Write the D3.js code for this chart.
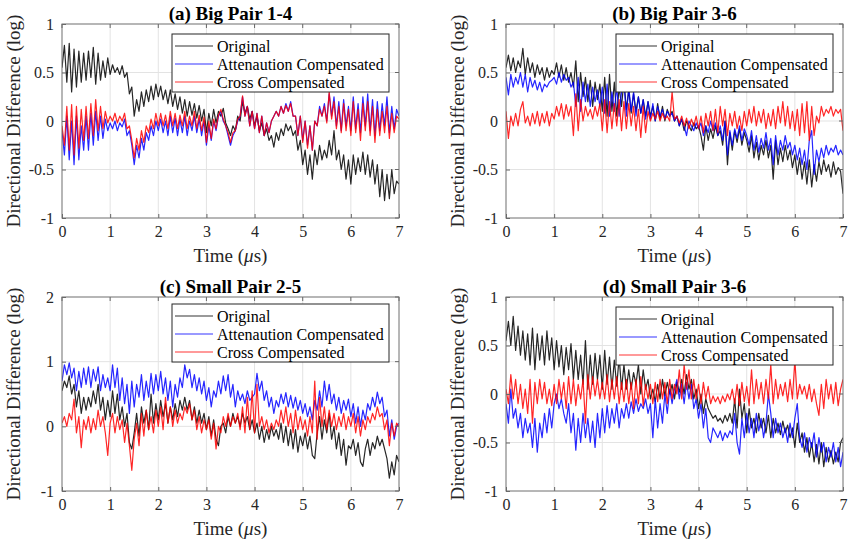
<!DOCTYPE html>
<html>
<head>
<meta charset="utf-8">
<script src="https://cdn.jsdelivr.net/npm/d3@7"></script>
<style>
  body { margin: 0; background: #fff; }
</style>
</head>
<body>
<svg id="chart" width="853" height="547"></svg>
<script>
// sample spacing of every trace (microseconds)
var sampleStep = 0.05;

var xTicks = [0, 1, 2, 3, 4, 5, 6, 7];
var yTicksHalf = [-1, -0.5, 0, 0.5, 1];
var yTicksUnit = [-1, 0, 1, 2];
var titles = ["(a) Big Pair 1-4", "(b) Big Pair 3-6", "(c) Small Pair 2-5", "(d) Small Pair 3-6"];
var seriesNames = ["Original", "Attenaution Compensated", "Cross Compensated"];
var seriesColors = ["#000000", "#0000ff", "#ff0000"];
var serif = "'Liberation Serif', 'Times New Roman', serif";

// (a) Big Pair 1-4
var bigA_orig = [
  0.55, 0.78, 0.40, 0.80, 0.30, 0.74, 0.35, 0.72, 0.40, 0.70,
  0.42, 0.72, 0.45, 0.76, 0.38, 0.70, 0.42, 0.62, 0.45, 0.65,
  0.48, 0.58, 0.50, 0.55, 0.48, 0.57, 0.45, 0.50, 0.28, 0.35,
  0.05, 0.22, 0.10, 0.30, 0.15, 0.32, 0.20, 0.36, 0.22, 0.38,
  0.25, 0.36, 0.22, 0.32, 0.18, 0.32, 0.15, 0.28, 0.12, 0.25,
  0.08, 0.22, 0.05, 0.20, 0.06, 0.18, 0.03, 0.16, 0.00, 0.12,
  -0.12, 0.08, -0.05, 0.12, -0.02, 0.10, 0.05, 0.13, -0.02, -0.08,
  -0.15, -0.05, -0.10, 0.05, 0.00, 0.20, 0.08, 0.15, 0.02, 0.10,
  -0.05, 0.05, -0.10, -0.02, -0.15, -0.08, -0.20, -0.15, -0.27, -0.12,
  -0.20, -0.08, -0.15, -0.03, -0.10, -0.05, -0.15, -0.10, -0.30, -0.20,
  -0.45, -0.30, -0.55, -0.35, -0.60, -0.30, -0.45, -0.25, -0.40, -0.30,
  -0.38, -0.20, -0.35, -0.10, -0.40, -0.30, -0.50, -0.35, -0.60, -0.40,
  -0.65, -0.35, -0.55, -0.38, -0.52, -0.32, -0.55, -0.35, -0.58, -0.40,
  -0.65, -0.45, -0.78, -0.50, -0.82, -0.55, -0.80, -0.50, -0.75, -0.62,
  -0.65];
var bigA_att = [
  -0.10, -0.35, 0.05, -0.40, 0.00, -0.45, 0.05, -0.40, -0.05, -0.30,
  0.05, -0.30, 0.08, -0.25, 0.10, -0.20, 0.05, -0.18, 0.02, -0.10,
  -0.02, -0.08, 0.00, -0.10, -0.02, -0.06, 0.02, -0.15, -0.10, -0.25,
  -0.45, -0.25, -0.38, -0.18, -0.30, -0.12, -0.20, -0.05, -0.15, 0.00,
  -0.10, 0.02, -0.12, 0.00, -0.15, 0.05, -0.12, 0.03, -0.15, 0.02,
  -0.12, 0.05, -0.15, 0.00, -0.10, 0.05, -0.12, 0.02, -0.15, 0.00,
  -0.25, -0.05, -0.20, 0.00, -0.10, 0.05, 0.10, 0.00, -0.05, -0.15,
  -0.25, -0.15, -0.10, 0.00, 0.05, 0.25, 0.05, 0.15, -0.05, 0.10,
  -0.08, 0.08, -0.12, 0.05, -0.15, -0.02, -0.12, 0.00, 0.05, 0.10,
  0.05, 0.15, 0.08, 0.18, 0.10, 0.20, 0.05, 0.05, -0.15, 0.05,
  -0.20, 0.00, -0.25, -0.05, -0.30, 0.00, -0.05, 0.15, 0.05, 0.18,
  0.00, 0.28, 0.05, 0.25, -0.05, 0.20, -0.10, 0.22, -0.05, 0.15,
  -0.10, 0.25, -0.08, 0.18, -0.12, 0.25, -0.05, 0.28, -0.10, 0.22,
  -0.15, 0.20, -0.10, 0.18, -0.05, 0.25, -0.12, 0.15, -0.08, 0.12,
  0.05];
var bigA_cross = [
  -0.05, -0.25, 0.15, -0.30, 0.17, -0.35, 0.15, -0.28, 0.12, -0.20,
  0.15, -0.18, 0.18, -0.15, 0.22, -0.10, 0.15, -0.08, 0.10, -0.02,
  0.05, 0.00, 0.08, -0.02, 0.05, 0.00, 0.08, -0.08, -0.05, -0.20,
  -0.38, -0.18, -0.30, -0.10, -0.22, -0.05, -0.12, 0.02, -0.08, 0.08,
  -0.05, 0.08, -0.05, 0.06, -0.08, 0.10, -0.05, 0.08, -0.08, 0.06,
  -0.05, 0.10, -0.08, 0.05, -0.05, 0.10, -0.08, 0.06, -0.10, 0.04,
  -0.22, 0.00, -0.18, 0.02, -0.08, 0.06, 0.12, 0.02, -0.05, -0.12,
  -0.22, -0.12, -0.10, 0.02, 0.05, 0.26, 0.05, 0.15, -0.05, 0.10,
  -0.08, 0.08, -0.12, 0.05, -0.15, -0.02, -0.12, 0.00, 0.05, 0.10,
  0.05, 0.15, 0.08, 0.16, 0.10, 0.18, 0.05, 0.05, -0.15, 0.05,
  -0.22, 0.00, -0.28, -0.05, -0.30, 0.00, -0.05, 0.12, 0.05, 0.15,
  -0.02, 0.30, 0.02, 0.20, -0.08, 0.15, -0.12, 0.18, -0.10, 0.12,
  -0.15, 0.20, -0.12, 0.12, -0.20, 0.18, -0.10, 0.20, -0.15, 0.15,
  -0.22, 0.12, -0.15, 0.10, -0.12, 0.15, -0.18, 0.08, -0.12, 0.05,
  0.02];

// (b) Big Pair 3-6
var bigB_orig = [
  0.55, 0.68, 0.52, 0.65, 0.50, 0.62, 0.55, 0.75, 0.48, 0.65,
  0.50, 0.60, 0.45, 0.58, 0.48, 0.55, 0.42, 0.55, 0.45, 0.52,
  0.48, 0.60, 0.45, 0.58, 0.42, 0.55, 0.40, 0.50, 0.35, 0.62,
  0.20, 0.50, 0.25, 0.45, 0.20, 0.42, 0.15, 0.40, 0.22, 0.38,
  0.10, 0.45, 0.05, 0.48, 0.10, 0.40, 0.05, 0.35, 0.15, 0.42,
  0.12, 0.32, 0.08, 0.28, 0.10, 0.25, 0.08, 0.22, 0.05, 0.20,
  0.05, 0.15, 0.00, 0.18, 0.02, 0.15, 0.00, 0.12, 0.05, 0.10,
  0.00, 0.05, -0.05, 0.02, -0.10, 0.00, -0.05, -0.10, -0.02, -0.08,
  -0.05, -0.15, -0.30, -0.05, -0.20, -0.08, -0.18, -0.05, -0.15, -0.10,
  -0.25, 0.00, -0.45, -0.12, -0.30, -0.10, -0.22, -0.08, -0.25, -0.12,
  -0.20, -0.32, -0.15, -0.38, -0.22, -0.40, -0.25, -0.35, -0.20, -0.38,
  -0.25, -0.60, -0.20, -0.45, -0.28, -0.42, -0.25, -0.40, -0.30, -0.48,
  -0.35, -0.55, -0.38, -0.60, -0.42, -0.65, -0.40, -0.68, -0.45, -0.62,
  -0.42, -0.55, -0.40, -0.52, -0.45, -0.58, -0.42, -0.55, -0.48, -0.52,
  -0.75];
var bigB_att = [
  0.45, 0.27, 0.48, 0.35, 0.45, 0.38, 0.50, 0.35, 0.48, 0.30,
  0.45, 0.35, 0.42, 0.32, 0.40, 0.30, 0.38, 0.35, 0.40, 0.42,
  0.45, 0.38, 0.50, 0.40, 0.48, 0.42, 0.45, 0.35, 0.40, 0.15,
  0.45, 0.10, 0.40, 0.20, 0.38, 0.15, 0.35, 0.20, 0.32, 0.15,
  0.35, 0.08, 0.38, 0.05, 0.30, 0.10, 0.35, 0.05, 0.30, 0.40,
  0.05, 0.35, 0.10, 0.30, 0.05, 0.25, 0.08, 0.22, 0.02, 0.20,
  0.02, 0.18, 0.00, 0.15, 0.05, 0.12, 0.02, 0.10, 0.05, 0.08,
  0.00, 0.05, -0.05, 0.02, -0.05, -0.15, 0.00, -0.05, -0.10, -0.02,
  -0.08, -0.02, -0.15, -0.05, -0.12, 0.00, -0.10, -0.02, -0.15, -0.05,
  -0.20, 0.00, -0.35, -0.10, -0.25, -0.08, -0.18, -0.05, -0.20, -0.08,
  -0.15, -0.25, -0.10, -0.30, -0.15, -0.32, -0.18, -0.28, -0.12, -0.30,
  -0.18, -0.45, -0.15, -0.35, -0.20, -0.30, -0.15, -0.28, -0.22, -0.35,
  -0.25, -0.40, -0.28, -0.45, -0.30, -0.50, -0.20, -0.10, -0.55, -0.30,
  -0.42, -0.28, -0.38, -0.25, -0.35, -0.28, -0.32, -0.25, -0.35, -0.30,
  -0.35];
var bigB_cross = [
  0.10, -0.18, 0.05, -0.05, 0.08, -0.05, 0.12, 0.20, -0.02, 0.05,
  -0.05, 0.08, -0.03, 0.10, -0.05, 0.08, -0.02, 0.10, -0.05, 0.08,
  0.02, 0.15, 0.05, 0.18, 0.02, 0.17, 0.05, 0.15, -0.15, 0.28,
  -0.10, 0.22, 0.00, 0.15, 0.05, 0.12, 0.02, 0.15, 0.05, 0.18,
  -0.10, 0.22, -0.12, 0.20, -0.08, 0.18, -0.05, 0.22, -0.10, 0.20,
  -0.08, 0.18, -0.05, 0.15, -0.10, 0.12, -0.17, 0.15, -0.12, 0.10,
  0.00, 0.08, 0.02, 0.10, 0.00, 0.08, 0.02, 0.05, 0.00, 0.30,
  0.02, 0.05, -0.02, 0.05, -0.05, 0.03, -0.08, 0.02, -0.05, 0.05,
  -0.08, 0.05, -0.12, 0.08, -0.05, 0.10, -0.10, 0.12, -0.12, 0.15,
  -0.05, 0.12, -0.15, 0.08, -0.05, 0.10, -0.08, 0.05, -0.10, 0.10,
  -0.05, 0.12, -0.02, 0.15, -0.05, 0.10, -0.02, 0.12, -0.08, 0.08,
  -0.05, 0.12, -0.08, 0.15, -0.02, 0.20, -0.05, 0.15, -0.08, 0.10,
  -0.10, 0.12, -0.15, 0.18, -0.12, 0.20, -0.20, 0.15, -0.15, 0.05,
  -0.02, 0.15, 0.05, 0.12, 0.08, 0.15, 0.05, 0.12, 0.08, 0.12,
  -0.10];

// (c) Small Pair 2-5
var smallC_orig = [
  0.55, 0.70, 0.60, 0.78, 0.50, 0.65, 0.30, 0.55, 0.20, 0.45,
  0.25, 0.45, 0.30, 0.55, 0.35, 0.65, 0.25, 0.45, 0.10, 0.40,
  0.15, 0.55, 0.20, 0.50, 0.10, 0.30, 0.00, 0.20, -0.25, -0.35,
  -0.10, 0.20, -0.15, 0.30, 0.05, 0.25, -0.05, 0.50, 0.05, 0.35,
  0.10, 0.40, 0.15, 0.35, 0.05, 0.30, 0.10, 0.35, 0.15, 0.40,
  0.25, 0.45, 0.25, 0.40, 0.10, 0.30, 0.05, 0.25, 0.05, 0.20,
  -0.05, 0.15, -0.15, 0.10, -0.20, -0.30, 0.00, 0.05, -0.10, 0.15,
  0.00, 0.20, 0.05, 0.15, 0.00, 0.20, 0.05, 0.15, -0.05, 0.10,
  -0.10, 0.05, -0.20, 0.00, -0.25, -0.05, -0.20, 0.00, -0.15, -0.05,
  -0.20, 0.05, -0.25, 0.00, -0.30, -0.05, -0.35, -0.05, -0.40, -0.15,
  -0.30, -0.10, -0.35, -0.15, -0.45, -0.50, -0.10, 0.15, -0.20, 0.10,
  -0.10, 0.20, -0.20, 0.00, -0.35, -0.10, -0.45, -0.20, -0.60, -0.30,
  -0.35, -0.20, -0.45, -0.25, -0.55, -0.62, -0.35, -0.20, -0.45, -0.25,
  -0.35, -0.15, -0.30, -0.20, -0.35, -0.50, -0.80, -0.55, -0.75, -0.45,
  -0.55];
var smallC_att = [
  0.70, 0.95, 0.80, 0.98, 0.75, 0.90, 0.55, 0.85, 0.60, 0.90,
  0.65, 0.92, 0.60, 0.88, 0.70, 0.92, 0.55, 0.80, 0.60, 0.75,
  0.55, 0.95, 0.60, 0.90, 0.40, 0.75, 0.35, 0.65, 0.20, 0.70,
  0.30, 0.65, 0.45, 0.80, 0.40, 0.70, 0.45, 0.82, 0.50, 0.80,
  0.55, 0.85, 0.50, 0.75, 0.40, 0.70, 0.30, 0.65, 0.45, 0.75,
  0.60, 0.95, 0.75, 0.88, 0.60, 0.80, 0.55, 0.75, 0.50, 0.70,
  0.40, 0.60, 0.30, 0.55, 0.45, 0.70, 0.50, 0.78, 0.55, 0.80,
  0.45, 0.65, 0.30, 0.55, 0.40, 0.50, 0.35, 0.55, 0.40, 0.45,
  0.50, 0.82, 0.55, 0.70, 0.40, 0.55, 0.30, 0.45, 0.20, 0.40,
  0.30, 0.50, 0.35, 0.52, 0.30, 0.48, 0.28, 0.45, 0.25, 0.40,
  0.20, 0.35, 0.15, 0.30, 0.10, 0.40, 0.25, 0.55, 0.30, 0.70,
  0.40, 0.65, 0.35, 0.50, 0.25, 0.45, 0.20, 0.40, 0.25, 0.42,
  0.15, 0.35, 0.05, 0.30, 0.00, 0.25, 0.10, 0.35, 0.25, 0.45,
  0.30, 0.53, 0.35, 0.45, 0.15, 0.25, -0.15, 0.10, -0.20, 0.00,
  0.05];
var smallC_cross = [
  0.05, 0.15, 0.00, 0.20, 0.10, 0.42, -0.10, 0.15, -0.33, 0.10,
  -0.05, 0.15, -0.10, 0.12, -0.05, 0.25, 0.00, 0.15, -0.10, -0.45,
  0.05, 0.20, -0.10, 0.15, -0.05, 0.10, -0.25, 0.05, -0.30, -0.68,
  -0.20, 0.05, -0.30, 0.20, -0.15, 0.25, -0.05, 0.15, -0.10, 0.25,
  0.00, 0.30, -0.05, 0.45, 0.05, 0.30, 0.00, 0.25, 0.05, 0.20,
  0.10, 0.30, 0.20, 0.35, 0.10, 0.25, -0.05, 0.15, -0.10, 0.10,
  -0.05, 0.10, -0.20, 0.05, -0.35, 0.00, -0.10, 0.15, 0.00, 0.20,
  0.00, 0.15, 0.05, 0.20, -0.05, 0.30, -0.10, 0.45, -0.05, 0.55,
  -0.10, 0.65, 0.00, 0.15, -0.05, 0.10, -0.10, 0.05, -0.05, 0.10,
  0.00, 0.25, 0.05, 0.30, 0.00, 0.20, -0.10, 0.25, -0.05, 0.15,
  -0.05, 0.10, -0.15, 0.15, -0.10, 0.70, -0.20, 0.45, 0.00, 0.30,
  -0.05, 0.25, 0.00, 0.20, -0.05, 0.15, 0.00, 0.20, -0.05, 0.15,
  0.00, 0.20, -0.10, 0.15, -0.15, 0.10, -0.05, 0.15, 0.05, 0.20,
  0.10, 0.30, 0.15, 0.20, -0.05, 0.10, -0.30, 0.05, -0.15, 0.05,
  0.00];

// (d) Small Pair 3-6
var smallD_orig = [
  0.55, 0.75, 0.50, 0.80, 0.45, 0.70, 0.40, 0.65, 0.35, 0.62,
  0.30, 0.68, 0.25, 0.62, 0.35, 0.60, 0.30, 0.65, 0.35, 0.58,
  0.25, 0.55, 0.28, 0.50, 0.20, 0.48, 0.25, 0.52, 0.15, 0.45,
  0.15, 0.40, 0.10, 0.55, 0.05, 0.40, 0.10, 0.42, 0.15, 0.40,
  0.05, 0.45, 0.10, 0.38, 0.05, 0.35, 0.08, 0.38, 0.05, 0.30,
  0.05, 0.25, 0.05, 0.22, 0.10, 0.30, 0.00, 0.25, 0.05, 0.15,
  -0.05, 0.05, -0.08, 0.10, -0.05, 0.15, -0.02, 0.12, 0.00, 0.10,
  -0.05, 0.12, 0.02, 0.15, 0.00, 0.20, 0.05, 0.15, -0.05, 0.05,
  -0.15, 0.00, -0.20, -0.05, -0.15, -0.20, -0.25, -0.22, -0.28, -0.25,
  -0.30, -0.22, -0.28, -0.20, -0.30, -0.05, -0.35, 0.05, -0.25, -0.10,
  -0.40, -0.15, -0.35, -0.25, -0.40, -0.20, -0.35, -0.25, -0.40, -0.22,
  -0.45, -0.25, -0.40, -0.30, -0.42, -0.28, -0.40, -0.32, -0.45, -0.35,
  -0.55, -0.30, -0.50, -0.40, -0.60, -0.45, -0.65, -0.50, -0.70, -0.52,
  -0.72, -0.50, -0.75, -0.55, -0.70, -0.58, -0.72, -0.60, -0.70, -0.50,
  -0.45];
var smallD_att = [
  -0.10, -0.30, 0.05, -0.25, -0.15, -0.35, -0.20, -0.45, -0.25, -0.40,
  -0.30, -0.55, -0.25, -0.60, -0.30, -0.45, -0.20, -0.40, -0.15, -0.35,
  -0.10, 0.00, -0.15, -0.05, -0.20, -0.30, -0.10, -0.40, -0.20, -0.58,
  -0.25, -0.50, -0.20, -0.45, -0.25, -0.50, -0.28, -0.55, -0.20, -0.45,
  -0.15, -0.40, -0.12, -0.35, -0.15, -0.30, -0.10, -0.35, -0.15, -0.25,
  -0.10, -0.25, -0.08, -0.20, -0.05, -0.18, -0.10, -0.15, -0.05, -0.20,
  -0.10, -0.45, -0.05, -0.35, -0.10, -0.30, 0.00, -0.20, 0.05, -0.10,
  0.05, 0.15, -0.05, 0.10, -0.10, 0.12, -0.05, 0.10, -0.15, -0.05,
  -0.25, -0.10, -0.35, -0.15, -0.45, -0.50, -0.35, -0.40, -0.45, -0.38,
  -0.48, -0.40, -0.45, -0.38, -0.42, -0.20, -0.50, -0.62, -0.25, -0.45,
  -0.20, -0.40, -0.25, -0.45, -0.20, -0.38, -0.25, -0.45, -0.30, 0.00,
  -0.20, -0.45, -0.25, -0.40, -0.30, -0.45, -0.35, -0.50, -0.30, -0.45,
  -0.25, -0.10, -0.45, -0.55, -0.40, -0.60, -0.45, -0.55, -0.40, -0.65,
  -0.45, -0.60, -0.50, -0.70, -0.55, -0.65, -0.50, -0.70, -0.55, -0.75,
  -0.60];
var smallD_cross = [
  0.05, -0.10, 0.20, -0.05, 0.15, -0.10, 0.10, -0.15, 0.05, -0.20,
  0.15, -0.30, 0.12, -0.10, 0.15, -0.05, 0.12, -0.10, 0.05, -0.12,
  0.10, -0.10, 0.15, -0.05, 0.12, -0.15, 0.18, -0.10, 0.15, -0.12,
  0.10, -0.05, 0.15, -0.30, 0.20, -0.05, 0.18, -0.02, 0.15, -0.05,
  0.12, -0.05, 0.20, -0.08, 0.15, -0.05, 0.18, -0.10, 0.12, -0.08,
  0.15, -0.10, 0.12, -0.15, 0.15, -0.10, 0.18, -0.12, 0.10, -0.05,
  0.10, -0.10, 0.12, -0.08, 0.15, -0.05, 0.12, -0.10, 0.15, -0.05,
  0.10, 0.00, 0.25, -0.05, 0.30, 0.05, 0.25, -0.05, 0.15, -0.05,
  0.10, -0.10, 0.12, -0.05, 0.08, -0.10, -0.02, -0.08, -0.03, -0.10,
  -0.02, -0.08, 0.00, -0.06, 0.05, -0.10, 0.10, -0.12, 0.12, -0.08,
  0.08, -0.12, 0.25, -0.10, 0.15, -0.05, 0.12, -0.10, 0.15, -0.05,
  0.30, -0.10, 0.15, -0.05, 0.10, -0.02, 0.12, -0.08, 0.15, -0.05,
  0.35, -0.05, 0.10, 0.00, 0.08, -0.05, 0.10, -0.08, 0.05, -0.10,
  -0.22, 0.10, -0.15, 0.15, -0.05, 0.10, -0.10, 0.12, -0.12, 0.05,
  0.15];

var panels = [
  {title: titles[0], left: 62, top: 24, yDomain: [-1, 1], yTicks: yTicksHalf,
   series: [bigA_orig, bigA_att, bigA_cross], legendTop: 10},
  {title: titles[1], left: 506, top: 24, yDomain: [-1, 1], yTicks: yTicksHalf,
   series: [bigB_orig, bigB_att, bigB_cross], legendTop: 10},
  {title: titles[2], left: 62, top: 297, yDomain: [-1, 2], yTicks: yTicksUnit,
   series: [smallC_orig, smallC_att, smallC_cross], legendTop: 7},
  {title: titles[3], left: 506, top: 297, yDomain: [-1, 1], yTicks: yTicksHalf,
   series: [smallD_orig, smallD_att, smallD_cross], legendTop: 10}
];

var plotW = 337, plotH = 194;
var svg = d3.select("#chart");

panels.forEach(function(p) {
  var g = svg.append("g").attr("transform", "translate(" + p.left + "," + p.top + ")");

  var x = d3.scaleLinear().domain([0, 7]).range([0, plotW]);
  var y = d3.scaleLinear().domain(p.yDomain).range([plotH, 0]);

  // grid
  g.append("g").selectAll("line").data(xTicks.slice(1, -1)).enter().append("line")
      .attr("x1", function(d) { return x(d); }).attr("x2", function(d) { return x(d); })
      .attr("y1", 0).attr("y2", plotH)
      .attr("stroke", "#e3e3e3").attr("stroke-width", 1);
  g.append("g").selectAll("line").data(p.yTicks.slice(1, -1)).enter().append("line")
      .attr("y1", function(d) { return y(d); }).attr("y2", function(d) { return y(d); })
      .attr("x1", 0).attr("x2", plotW)
      .attr("stroke", "#e3e3e3").attr("stroke-width", 1);

  // traces (original, attenuation, cross on top)
  var clipId = "clip" + p.left + "_" + p.top;
  g.append("clipPath").attr("id", clipId).append("rect")
      .attr("width", plotW).attr("height", plotH);
  var line = d3.line()
      .x(function(d, i) { return x(i * sampleStep); })
      .y(function(d) { return y(d); });
  p.series.forEach(function(s, k) {
    g.append("path")
        .datum(s)
        .attr("clip-path", "url(#" + clipId + ")")
        .attr("fill", "none")
        .attr("stroke", seriesColors[k])
        .attr("stroke-opacity", 0.85)
        .attr("stroke-width", 1.2)
        .attr("stroke-linejoin", "round")
        .attr("d", line);
  });

  // axes
  var xAxis = d3.axisBottom(x).tickValues(xTicks).tickSizeInner(-4).tickSizeOuter(0)
      .tickPadding(8).tickFormat(function(d) { return d; });
  var yAxis = d3.axisLeft(y).tickValues(p.yTicks).tickSizeInner(-4).tickSizeOuter(0)
      .tickPadding(8).tickFormat(function(d) { return d; });
  var gx = g.append("g").attr("transform", "translate(0," + plotH + ")").call(xAxis);
  var gy = g.append("g").call(yAxis);
  [gx, gy].forEach(function(a) {
    a.attr("font-family", serif).attr("font-size", 16);
    a.select(".domain").remove();
    a.selectAll(".tick line").attr("stroke", "#666");
    a.selectAll(".tick text").attr("fill", "#262626");
  });
  // top and right ticks
  g.append("g").selectAll("line").data(xTicks).enter().append("line")
      .attr("x1", function(d) { return x(d); }).attr("x2", function(d) { return x(d); })
      .attr("y1", 0).attr("y2", 4).attr("stroke", "#666");
  g.append("g").selectAll("line").data(p.yTicks).enter().append("line")
      .attr("y1", function(d) { return y(d); }).attr("y2", function(d) { return y(d); })
      .attr("x1", plotW).attr("x2", plotW - 4).attr("stroke", "#666");

  // box
  g.append("rect").attr("width", plotW).attr("height", plotH)
      .attr("fill", "none").attr("stroke", "#6e6e6e").attr("stroke-width", 1);

  // title
  g.append("text")
      .attr("x", plotW / 2).attr("y", -4)
      .attr("text-anchor", "middle")
      .attr("font-family", serif)
      .attr("font-size", 19).attr("font-weight", "bold")
      .text(p.title);

  // axis labels
  var xl = g.append("text")
      .attr("x", plotW / 2).attr("y", plotH + 44)
      .attr("text-anchor", "middle")
      .attr("fill", "#262626")
      .attr("font-family", serif)
      .attr("font-size", 19);
  xl.append("tspan").text("Time (");
  xl.append("tspan").attr("font-style", "italic").text("\u03bc");
  xl.append("tspan").text("s)");

  g.append("text")
      .attr("transform", "translate(-42," + (plotH / 2) + ") rotate(-90)")
      .attr("text-anchor", "middle")
      .attr("fill", "#262626")
      .attr("font-family", serif)
      .attr("font-size", 19)
      .text("Directional Difference (log)");

  // legend
  var lg = g.append("g").attr("transform", "translate(" + (plotW - 227) + "," + p.legendTop + ")");
  lg.append("rect").attr("width", 217).attr("height", 58)
      .attr("fill", "#fff").attr("stroke", "#262626").attr("stroke-width", 1);
  seriesNames.forEach(function(name, k) {
    var cy = 12 + k * 18;
    lg.append("line").attr("x1", 3).attr("x2", 41).attr("y1", cy).attr("y2", cy)
        .attr("stroke", seriesColors[k]).attr("stroke-opacity", 0.8).attr("stroke-width", 1);
    lg.append("text").attr("x", 45).attr("y", cy + 5.5)
        .attr("font-family", serif)
        .attr("font-size", 16).text(name);
  });
});
</script>
</body>
</html>
